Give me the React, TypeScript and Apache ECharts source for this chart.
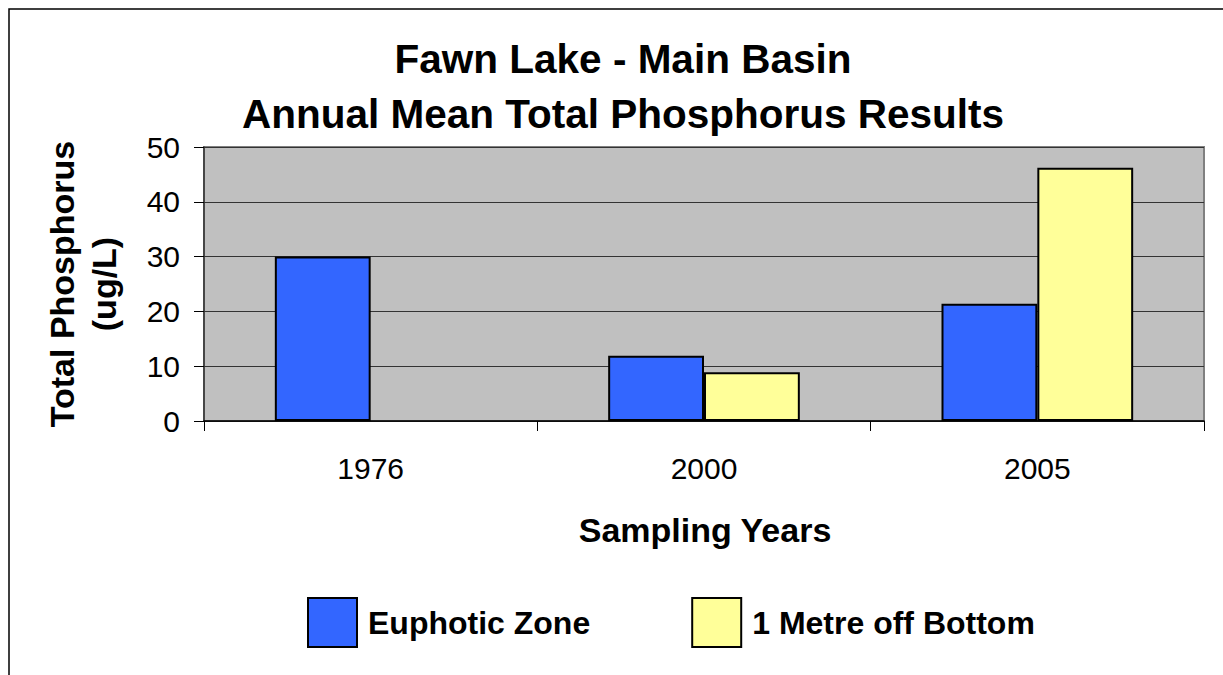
import React, { useEffect, useRef } from "react";
import * as echarts from "echarts";

const categories = ["1976", "2000", "2005"];
const euphoticZone: (number | null)[] = [30, 11.9, 21.4];
const metreOffBottom: (number | null)[] = [null, 8.9, 46.2];
const seriesNames = ["Euphotic Zone", "1 Metre off Bottom"];
const titleLines = ["Fawn Lake - Main Basin", "Annual Mean Total Phosphorus Results"];
const yAxisTitle = "Total Phosphorus\n(ug/L)";
const xAxisTitle = "Sampling Years";

const FONT = "'Liberation Sans', Arial, Helvetica, sans-serif";

export default function App() {
  const ref = useRef<HTMLDivElement>(null);
  useEffect(() => {
    if (!ref.current) return;
    const chart = echarts.init(ref.current, undefined, { renderer: "svg" });
    chart.setOption({
      animation: false,
      backgroundColor: "#ffffff",
      textStyle: { fontFamily: FONT },
      title: {
        text: titleLines.join("\n"),
        left: 618,
        top: 26,
        textAlign: "center",
        textStyle: {
          fontFamily: FONT,
          fontSize: 40.5,
          fontWeight: "bold",
          color: "#000",
          lineHeight: 55,
        },
      },
      legend: {
        left: 302,
        top: 592,
        itemWidth: 49,
        itemHeight: 49,
        itemGap: 101,
        icon: "rect",
        textStyle: {
          fontFamily: FONT,
          fontSize: 32,
          fontWeight: "bold",
          color: "#000",
          padding: [0, 0, 0, 6],
        },
        data: seriesNames,
      },
      grid: {
        left: 204,
        right: 19,
        top: 147,
        bottom: 254,
        show: true,
        backgroundColor: "#C0C0C0",
        borderColor: "#808080",
        borderWidth: 2,
      },
      xAxis: {
        type: "category",
        data: categories,
        axisLine: { lineStyle: { color: "#000", width: 1.5 } },
        axisTick: { show: true, length: 10, lineStyle: { color: "#000", width: 1 } },
        axisLabel: {
          fontFamily: FONT,
          fontSize: 30,
          color: "#000",
          margin: 32,
        },
      },
      yAxis: {
        type: "value",
        min: 0,
        max: 50,
        interval: 10,
        axisLine: { show: true, lineStyle: { color: "#333", width: 1.5 } },
        axisTick: { show: true, length: 10, lineStyle: { color: "#000", width: 1 } },
        axisLabel: {
          fontFamily: FONT,
          fontSize: 30,
          color: "#000",
          margin: 24,
        },
        splitLine: { show: true, lineStyle: { color: "#333", width: 1 } },
      },
      graphic: [
        {
          type: "rect",
          z: -10,
          silent: true,
          shape: { x: 9, y: 9, width: 1240, height: 700 },
          style: { fill: "none", stroke: "#000", lineWidth: 1.5 },
        },
        {
          type: "text",
          x: 83,
          y: 284,
          rotation: Math.PI / 2,
          style: {
            text: yAxisTitle,
            fontFamily: FONT,
            fontSize: 34,
            fontWeight: "bold",
            fill: "#000",
            align: "center",
            verticalAlign: "middle",
            lineHeight: 42,
          },
        },
        {
          type: "text",
          x: 705,
          y: 530,
          style: {
            text: xAxisTitle,
            fontFamily: FONT,
            fontSize: 34,
            fontWeight: "bold",
            fill: "#000",
            align: "center",
            verticalAlign: "middle",
          },
        },
      ],
      series: [
        {
          name: seriesNames[0],
          type: "bar",
          data: euphoticZone,
          barGap: "0%",
          barCategoryGap: "42.5%",
          itemStyle: { color: "#3366FF", borderColor: "#000", borderWidth: 2 },
        },
        {
          name: seriesNames[1],
          type: "bar",
          data: metreOffBottom,
          barGap: "0%",
          barCategoryGap: "42.5%",
          itemStyle: { color: "#FFFF99", borderColor: "#000", borderWidth: 2 },
        },
      ],
    });
    return () => chart.dispose();
  }, []);
  return (
    <div
      ref={ref}
      style={{ position: "fixed", left: 0, top: 0, width: 1223, height: 675 }}
    />
  );
}
